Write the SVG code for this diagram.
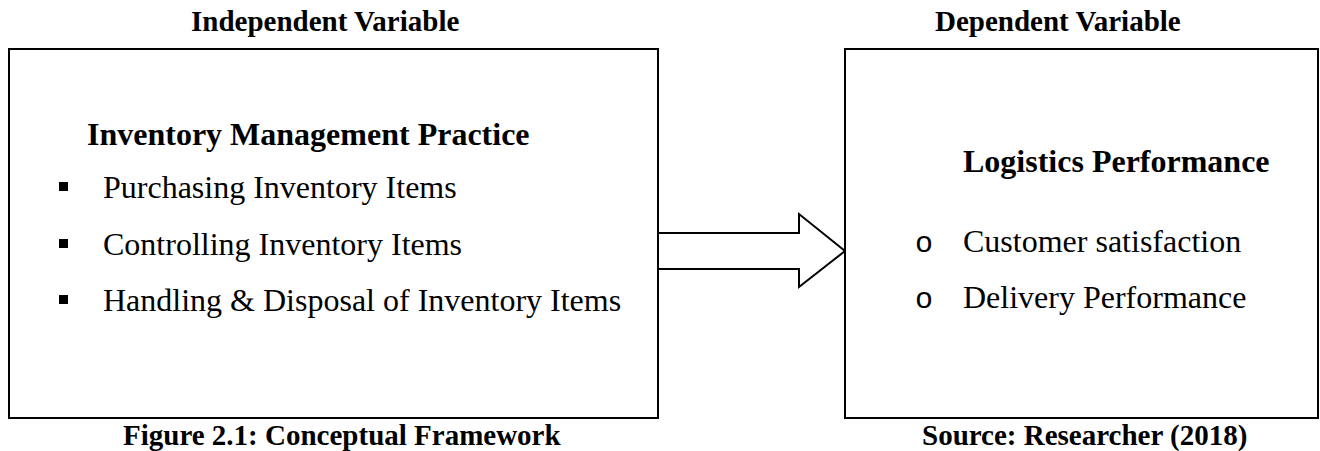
<svg xmlns="http://www.w3.org/2000/svg" width="1320" height="451" viewBox="0 0 1320 451">
  <style>
    .box { fill: #ffffff; stroke: #000000; stroke-width: 2; }
    .label { font-family: "Liberation Serif", "Times New Roman", serif; font-weight: bold; font-size: 29px; fill: #000; }
    .head { font-family: "Liberation Serif", "Times New Roman", serif; font-weight: bold; font-size: 32px; fill: #000; }
    .item { font-family: "Liberation Serif", "Times New Roman", serif; font-size: 32px; fill: #000; }
    .obul { font-family: "Liberation Mono", "Courier New", monospace; font-size: 30px; fill: #000; }
    .sq { fill: #000000; }
    .arrow { fill: #ffffff; stroke: #000000; stroke-width: 2; stroke-linejoin: miter; }
  </style>
  <rect width="1320" height="451" fill="#ffffff"/>

  <text class="label" x="191" y="31">Independent Variable</text>
  <text class="label" x="935" y="31">Dependent Variable</text>

  <g id="connectors">
    <path class="arrow" d="M659,233 H799 V214 L845,251 L799,287 V269 H659"/>
  </g>

  <g id="independent">
    <rect class="box" x="9" y="49" width="649" height="369"/>
    <text class="head" x="87" y="145">Inventory Management Practice</text>
    <rect class="sq" x="59" y="182" width="9" height="9"/>
    <text class="item" x="103" y="198">Purchasing Inventory Items</text>
    <rect class="sq" x="59" y="239" width="9" height="9"/>
    <text class="item" x="103" y="255">Controlling Inventory Items</text>
    <rect class="sq" x="59" y="295" width="9" height="9"/>
    <text class="item" x="103" y="311">Handling &amp; Disposal of Inventory Items</text>
  </g>

  <g id="dependent">
    <rect class="box" x="845" y="49" width="473" height="369"/>
    <text class="head" x="963" y="172">Logistics Performance</text>
    <text class="obul" x="915" y="252">o</text>
    <text class="item" x="963" y="252">Customer satisfaction</text>
    <text class="obul" x="915" y="308">o</text>
    <text class="item" x="963" y="308">Delivery Performance</text>
  </g>

  <text class="label" x="123" y="445">Figure 2.1: Conceptual Framework</text>
  <text class="label" x="922" y="445">Source: Researcher (2018)</text>
</svg>
